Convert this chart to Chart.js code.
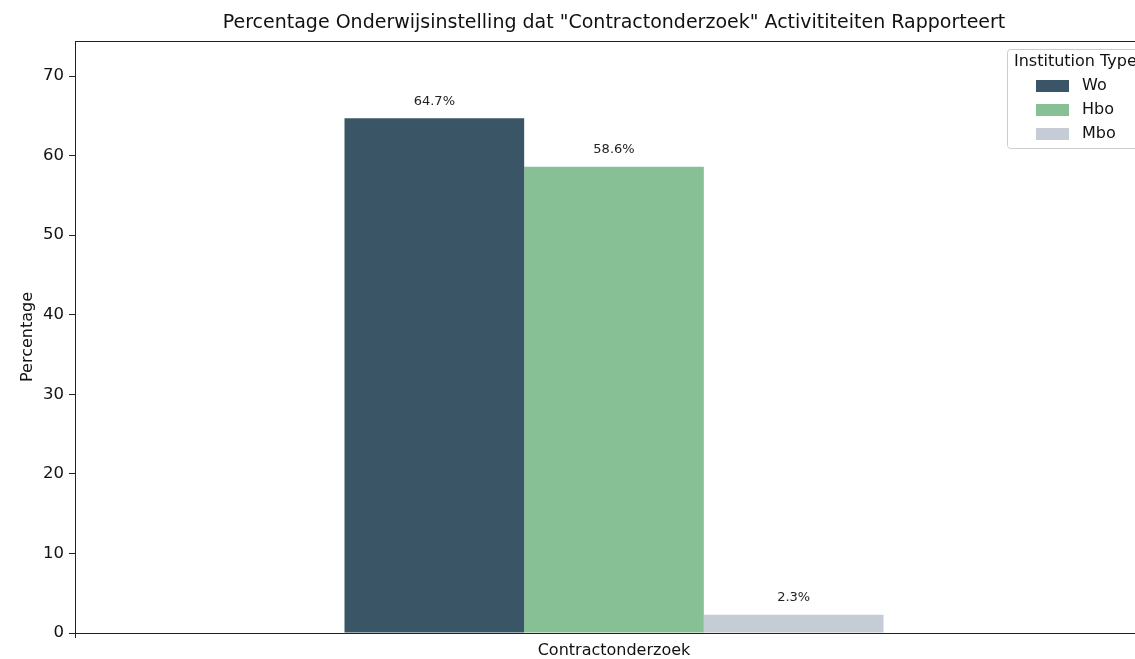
<!DOCTYPE html>
<html>
<head>
<meta charset="utf-8">
<script src="https://cdn.jsdelivr.net/npm/chart.js@4/dist/chart.umd.min.js"></script>
<style>
  html, body { margin: 0; padding: 0; background: #fff; overflow: hidden; }
  #wrap { width: 1155px; height: 659px; }
</style>
</head>
<body>
<div id="wrap"><canvas id="chart" width="1155" height="659"></canvas></div>
<script>
// data
const categories = ['Contractonderzoek'];
const seriesNames = ['Wo', 'Hbo', 'Mbo'];
const woValues = [64.7];
const hboValues = [58.6];
const mboValues = [2.3];
const yTicks = [0, 10, 20, 30, 40, 50, 60, 70];

const colors = ['#3a5666', '#88c096', '#c5ccd5'];
const FONT = '"DejaVu Sans", sans-serif';

const frame = {
  id: 'frame',
  afterDraw(chart) {
    const { ctx, chartArea: a } = chart;
    ctx.save();
    ctx.strokeStyle = '#222';
    ctx.lineWidth = 1;
    ctx.strokeRect(Math.round(a.left) + 0.5, Math.round(a.top) + 0.5,
      Math.round(a.right - a.left), Math.round(a.bottom - a.top));

    // title
    ctx.fillStyle = '#111';
    ctx.font = '19px ' + FONT;
    ctx.textAlign = 'center';
    ctx.textBaseline = 'middle';
    ctx.fillText('Percentage Onderwijsinstelling dat "Contractonderzoek" Activititeiten Rapporteert',
      (a.left + a.right) / 2, 23);

    // value labels
    ctx.font = '13px ' + FONT;
    ctx.fillStyle = '#222';
    chart.data.datasets.forEach((ds, i) => {
      chart.getDatasetMeta(i).data.forEach((bar, j) => {
        ctx.fillText(ds.data[j].toFixed(1) + '%', bar.x, bar.y - 17);
      });
    });

    // legend, matplotlib style
    const right = a.right - 7;
    const w = 139, top = a.top + 8, h = 99;
    const left = right - w;
    ctx.fillStyle = 'rgba(255,255,255,0.85)';
    ctx.strokeStyle = '#cccccc';
    ctx.beginPath();
    ctx.roundRect(left + 0.5, top + 0.5, w, h, 3);
    ctx.fill();
    ctx.stroke();
    ctx.fillStyle = '#111';
    ctx.font = '16px ' + FONT;
    ctx.textAlign = 'left';
    ctx.fillText('Institution Type', left + 7, top + 13);
    chart.data.datasets.forEach((ds, i) => {
      const cy = top + 37 + i * 24;
      ctx.fillStyle = ds.backgroundColor;
      ctx.fillRect(left + 29, cy - 6, 33, 12);
      ctx.fillStyle = '#111';
      ctx.fillText(ds.label, left + 75, cy);
    });
    ctx.restore();
  }
};

new Chart(document.getElementById('chart'), {
  type: 'bar',
  data: {
    labels: categories,
    datasets: [
      { label: seriesNames[0], data: woValues, backgroundColor: colors[0] },
      { label: seriesNames[1], data: hboValues, backgroundColor: colors[1] },
      { label: seriesNames[2], data: mboValues, backgroundColor: colors[2] }
    ]
  },
  options: {
    responsive: false,
    animation: false,
    layout: { padding: { top: 41, right: 2, left: 0, bottom: 0 } },
    categoryPercentage: 0.5,
    barPercentage: 1.0,
    plugins: { legend: { display: false }, tooltip: { enabled: false } },
    scales: {
      x: {
        grid: { display: true, drawOnChartArea: false, tickLength: 5, color: '#222' },
        border: { display: false },
        ticks: { color: '#111', font: { family: FONT, size: 16 }, padding: 3 },
        afterFit(scale) { scale.height = 26; }
      },
      y: {
        min: 0,
        max: 74.4,
        afterBuildTicks(scale) { scale.ticks = yTicks.map(v => ({ value: v })); },
        grid: { display: true, drawOnChartArea: false, tickLength: 6, color: '#222' },
        border: { display: false },
        ticks: { color: '#111', font: { family: FONT, size: 16.5 }, padding: 5 },
        title: { display: true, text: 'Percentage', color: '#111',
                 font: { family: FONT, size: 16 }, padding: { top: 18, bottom: 0 } },
        afterFit(scale) { scale.width = 75; }
      }
    }
  },
  plugins: [frame]
});
</script>
</body>
</html>
